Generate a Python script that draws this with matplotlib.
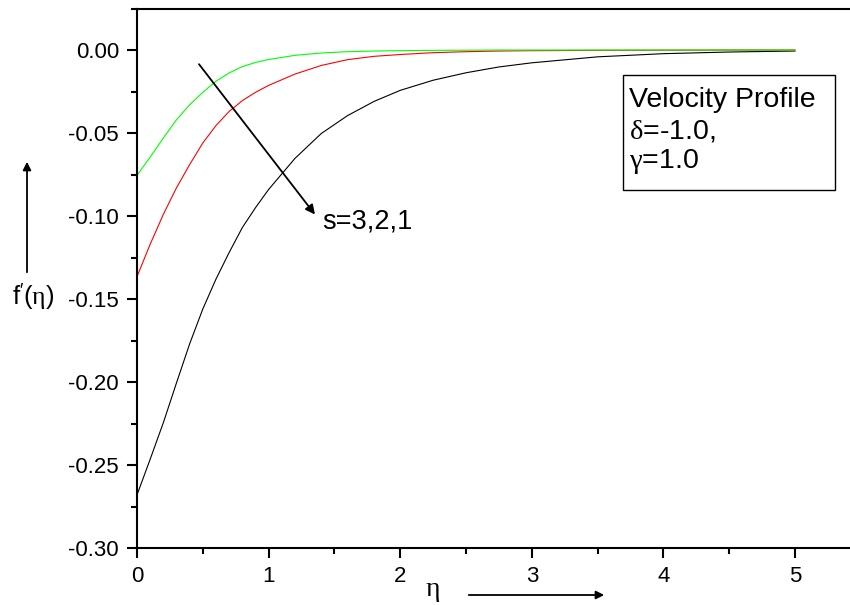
import numpy as np
import matplotlib
matplotlib.use("Agg")
import matplotlib.pyplot as plt
from matplotlib.ticker import MultipleLocator, FormatStrFormatter
from matplotlib.patches import Rectangle, FancyArrowPatch

plt.rcParams['font.family'] = ['Liberation Sans', 'DejaVu Sans']
plt.rcParams['mathtext.fontset'] = 'custom'
plt.rcParams['mathtext.rm'] = 'Liberation Sans'
plt.rcParams['mathtext.it'] = 'Liberation Serif'

# datos
eta = [0.0, 0.1, 0.2, 0.3, 0.4, 0.5, 0.6, 0.7, 0.8, 0.9, 1.0,
       1.2, 1.4, 1.6, 1.8, 2.0, 2.25, 2.5, 2.75, 3.0, 3.5, 4.0, 4.5, 5.0]
f_s1 = [-0.268, -0.2465, -0.2245, -0.2005, -0.177, -0.156, -0.138, -0.122, -0.107, -0.095, -0.084,
        -0.0653, -0.0503, -0.0395, -0.031, -0.0243, -0.0182, -0.0137, -0.0102, -0.0077, -0.0041, -0.0022, -0.0012, -0.0006]
f_s2 = [-0.1365, -0.117, -0.099, -0.083, -0.069, -0.056, -0.0455, -0.037, -0.0305, -0.0255, -0.0213,
        -0.0145, -0.0093, -0.0058, -0.0038, -0.0027, -0.0016, -0.001, -0.0006, -0.0004, -0.0002, -0.0001, 0.0, 0.0]
f_s3 = [-0.0755, -0.0645, -0.053, -0.042, -0.033, -0.0255, -0.0188, -0.0138, -0.0100, -0.0075, -0.0057,
        -0.0032, -0.0018, -0.0010, -0.0006, -0.0004, -0.0002, -0.0001, 0.0, 0.0, 0.0, 0.0, 0.0, 0.0]

fig = plt.figure(figsize=(8.5, 6.05), dpi=100)
ax = fig.add_axes([0.1612, 0.0942, 0.8515, 0.8917])

ax.plot(eta, f_s1, color='black', lw=0.8)
ax.plot(eta, f_s2, color='#ff0000', lw=0.8)
ax.plot(eta, f_s3, color='#00ff00', lw=0.8)

ax.set_xlim(0, 5.5)
ax.set_ylim(-0.30, 0.025)
ax.xaxis.set_major_locator(MultipleLocator(1))
ax.xaxis.set_minor_locator(MultipleLocator(0.5))
ax.yaxis.set_major_locator(MultipleLocator(0.05))
ax.yaxis.set_minor_locator(MultipleLocator(0.025))
ax.yaxis.set_major_formatter(FormatStrFormatter('%.2f'))
ax.tick_params(which='major', length=7, width=1.5, labelsize=16, direction='out')
ax.tick_params(which='minor', length=4, width=1.5, direction='out')
ax.tick_params(axis='x', pad=6)
ax.tick_params(axis='y', pad=6)
for s in ax.spines.values():
    s.set_linewidth(1.5)
ax.spines['right'].set_visible(False)

# flecha s=3,2,1
ax.annotate('', xy=(1.365, -0.1004), xytext=(0.458, -0.0072),
            arrowprops=dict(arrowstyle='-|>', color='black', lw=1.3, mutation_scale=14))
ax.text(1.41, -0.1036, 's=3,2,1', fontsize=19.5, va='center', ha='left')

# cuadro de texto
fig.add_artist(Rectangle((623 / 850, 1 - 190 / 605), 212 / 850, 115 / 605,
                         transform=fig.transFigure, fill=False, ec='black', lw=1))
fig.text(629 / 850, 1 - 100 / 605, 'Velocity Profile', fontsize=20.5, va='center')
fig.text(629 / 850, 1 - 131 / 605, r'$\delta$=-1.0,', fontsize=20.5, va='center')
fig.text(629 / 850, 1 - 162 / 605, r'$\gamma$=1.0', fontsize=20.5, va='center')

# etiquetas de ejes con flechas
fig.text(33 / 850, 1 - 297 / 605, r"f$^{\prime}$($\eta$)", fontsize=18.5, va='center', ha='center')
fig.add_artist(FancyArrowPatch((27 / 850, 1 - 275 / 605), (27 / 850, 1 - 159 / 605),
                               transform=fig.transFigure, arrowstyle='-|>',
                               mutation_scale=12, color='black', lw=1.3))
fig.text(433 / 850, 1 - 591 / 605, r'$\eta$', fontsize=20, va='center', ha='center')
fig.add_artist(FancyArrowPatch((466 / 850, 1 - 595 / 605), (607 / 850, 1 - 595 / 605),
                               transform=fig.transFigure, arrowstyle='-|>',
                               mutation_scale=12, color='black', lw=1.3))

fig.savefig('out.png', dpi=100)
